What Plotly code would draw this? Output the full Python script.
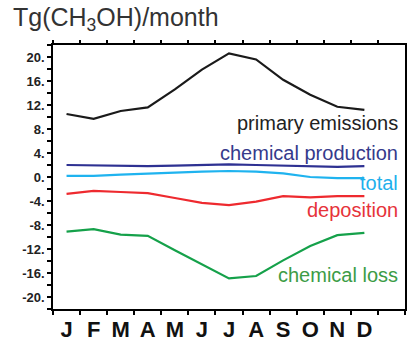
import plotly.graph_objects as go

# Monthly methanol budget terms, Tg(CH3OH)/month
months = ["J", "F", "M", "A", "M", "J", "J", "A", "S", "O", "N", "D"]
primary_emissions = [10.5, 9.7, 11.0, 11.6, 14.6, 17.9, 20.6, 19.6, 16.2, 13.7, 11.7, 11.2]
chemical_production = [2.0, 1.9, 1.8, 1.8, 1.9, 2.0, 2.1, 2.0, 1.9, 1.7, 1.7, 1.8]
total = [0.2, 0.2, 0.4, 0.6, 0.8, 0.9, 1.0, 0.9, 0.6, 0.0, -0.2, -0.2]
deposition = [-2.8, -2.3, -2.5, -2.7, -3.5, -4.3, -4.7, -4.1, -3.2, -3.4, -3.2, -3.2]
chemical_loss = [-9.1, -8.7, -9.6, -9.8, -12.2, -14.5, -16.9, -16.5, -13.9, -11.5, -9.7, -9.3]

y_ticks = [20, 16, 12, 8, 4, 0, -4, -8, -12, -16, -20]
y_ticktext = [f"{v}." for v in y_ticks]

x = [i + 0.5 for i in range(len(months))]
month_edges = list(range(len(months) + 1))

series = [
    ("primary emissions", primary_emissions, "#1a1a1a", "#222222", 9.0),
    ("chemical production", chemical_production, "#2e3192", "#353a8c", 4.0),
    ("total", total, "#1fb3ef", "#1fb0ec", -1.0),
    ("deposition", deposition, "#ee2a2f", "#e6333a", -5.5),
    ("chemical loss", chemical_loss, "#15a14a", "#3c9c46", -16.3),
]

FONT = "Liberation Sans, Arial, sans-serif"

fig = go.Figure()
for name, vals, color, _, _ in series:
    fig.add_trace(go.Scatter(x=x, y=vals, mode="lines", name=name,
                             line=dict(color=color, width=2.2),
                             showlegend=False, hoverinfo="skip"))

# Invisible trace to activate the top tick axis
fig.add_trace(go.Scatter(x=[0, 13], y=[0, 0], xaxis="x2", mode="lines",
                         line=dict(width=0), showlegend=False, hoverinfo="skip"))

# Inline series labels, right-aligned inside the frame
for name, vals, _, tcolor, ylab in series:
    fig.add_annotation(x=12.82, y=ylab, xref="x", yref="y", text=name,
                       showarrow=False, xanchor="right", yanchor="middle",
                       font=dict(family=FONT, size=20, color=tcolor))

fig.add_annotation(x=-0.118, y=1.097, xref="paper", yref="paper",
                   text="Tg(CH<sub>3</sub>OH)/month", showarrow=False,
                   xanchor="left", yanchor="middle",
                   font=dict(family=FONT, size=25, color="#333333"))

fig.update_layout(
    xaxis=dict(
        range=[0, 13], tickmode="array", tickvals=x, ticktext=months,
        ticks="", showgrid=False, zeroline=False, ticklabelstandoff=0,
        automargin=False,
        showline=True, linecolor="black", linewidth=1.5, mirror=True,
        tickfont=dict(family=FONT, size=22, color="#111111", weight="bold"),
        minor=dict(tick0=0, dtick=1, ticks="outside", ticklen=4,
                   tickcolor="black", tickwidth=1.5, showgrid=False),
    ),
    xaxis2=dict(
        range=[0, 13], overlaying="x", side="top", anchor="y",
        tickmode="array", tickvals=month_edges, showticklabels=False,
        ticks="outside", ticklen=4, tickwidth=1.5, tickcolor="black",
        showgrid=False, zeroline=False, showline=False, automargin=False,
    ),
    yaxis=dict(
        range=[-22, 22], tickmode="array", tickvals=y_ticks, ticktext=y_ticktext,
        ticks="outside", ticklen=4, tickwidth=1.5, tickcolor="black",
        showgrid=False, zeroline=False, automargin=False,
        showline=True, linecolor="black", linewidth=1.5, mirror=True,
        tickfont=dict(family=FONT, size=13, color="#222222", weight="bold"),
        minor=dict(dtick=2, tick0=0, ticks="outside", ticklen=4,
                   tickcolor="black", tickwidth=1.5, showgrid=False),
    ),
    width=408, height=338,
    margin=dict(l=53, r=3, t=45, b=29),
    paper_bgcolor="white", plot_bgcolor="white",
)

fig.write_html("out.html")
